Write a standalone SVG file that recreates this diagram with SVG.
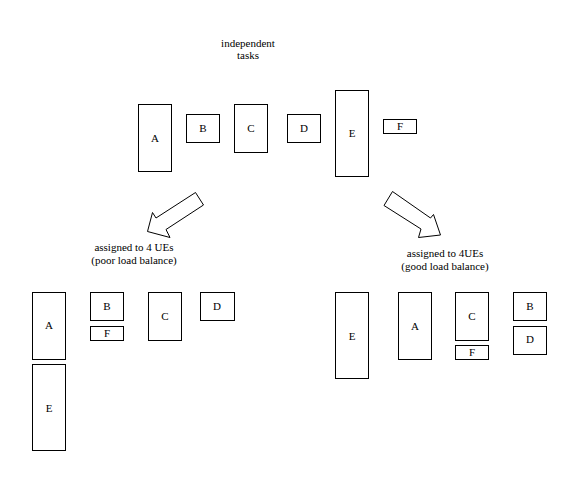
<svg xmlns="http://www.w3.org/2000/svg" width="578" height="482" viewBox="0 0 578 482">
<style>
.box{fill:#fff;stroke:#000;stroke-width:1}
text{font-family:'Liberation Serif','DejaVu Serif','Times New Roman',serif;font-size:11px;fill:#000;text-anchor:middle}
.arr{fill:#fff;stroke:#000;stroke-width:1;stroke-linejoin:miter}
</style>
<rect width="578" height="482" fill="#fff"/>
<text x="248" y="47">independent</text>
<text x="248" y="59">tasks</text>
<g id="top-A"><rect class="box" x="138.5" y="104.5" width="33" height="67"/><text x="155" y="142">A</text></g>
<g id="top-B"><rect class="box" x="186.5" y="114.5" width="33" height="28"/><text x="203" y="132">B</text></g>
<g id="top-C"><rect class="box" x="234.5" y="104.5" width="33" height="48"/><text x="251" y="132">C</text></g>
<g id="top-D"><rect class="box" x="287.5" y="114.5" width="33" height="28"/><text x="304" y="132">D</text></g>
<g id="top-E"><rect class="box" x="335.5" y="90.5" width="33" height="86"/><text x="352" y="137">E</text></g>
<g id="top-F"><rect class="box" x="383.5" y="119.5" width="33" height="14"/><text x="400" y="130">F</text></g>
<g id="connectors">
<polygon class="arr" points="195.5,192.5 203.5,205 166,229.5 170,237.5 147.5,231.5 152.5,212.5 156,218"/>
<polygon class="arr" points="392.5,191.5 384,205.5 421,229 418.5,237.5 440.5,235 433.5,214.5 430.5,218"/>
</g>
<text x="134" y="251">assigned to 4 UEs</text>
<text x="134" y="264">(poor load balance)</text>
<text x="445" y="257">assigned to 4UEs</text>
<text x="445" y="270">(good load balance)</text>
<g id="poor-A"><rect class="box" x="32.5" y="292.5" width="33" height="67"/><text x="49" y="329">A</text></g>
<g id="poor-E"><rect class="box" x="32.5" y="364.5" width="33" height="86"/><text x="49" y="412">E</text></g>
<g id="poor-B"><rect class="box" x="90.5" y="292.5" width="33" height="28"/><text x="107" y="310">B</text></g>
<g id="poor-F"><rect class="box" x="90.5" y="326.5" width="33" height="14"/><text x="107" y="337">F</text></g>
<g id="poor-C"><rect class="box" x="148.5" y="292.5" width="33" height="48"/><text x="165" y="320">C</text></g>
<g id="poor-D"><rect class="box" x="200.5" y="292.5" width="34" height="28"/><text x="217" y="310">D</text></g>
<g id="good-E"><rect class="box" x="335.5" y="292.5" width="33" height="86"/><text x="352" y="340">E</text></g>
<g id="good-A"><rect class="box" x="398.5" y="292.5" width="33" height="67"/><text x="415" y="330">A</text></g>
<g id="good-C"><rect class="box" x="455.5" y="292.5" width="33" height="48"/><text x="472" y="320">C</text></g>
<g id="good-F"><rect class="box" x="455.5" y="345.5" width="33" height="14"/><text x="472" y="356">F</text></g>
<g id="good-B"><rect class="box" x="513.5" y="292.5" width="33" height="28"/><text x="530" y="310">B</text></g>
<g id="good-D"><rect class="box" x="513.5" y="326.5" width="33" height="28"/><text x="530" y="343">D</text></g>
</svg>
